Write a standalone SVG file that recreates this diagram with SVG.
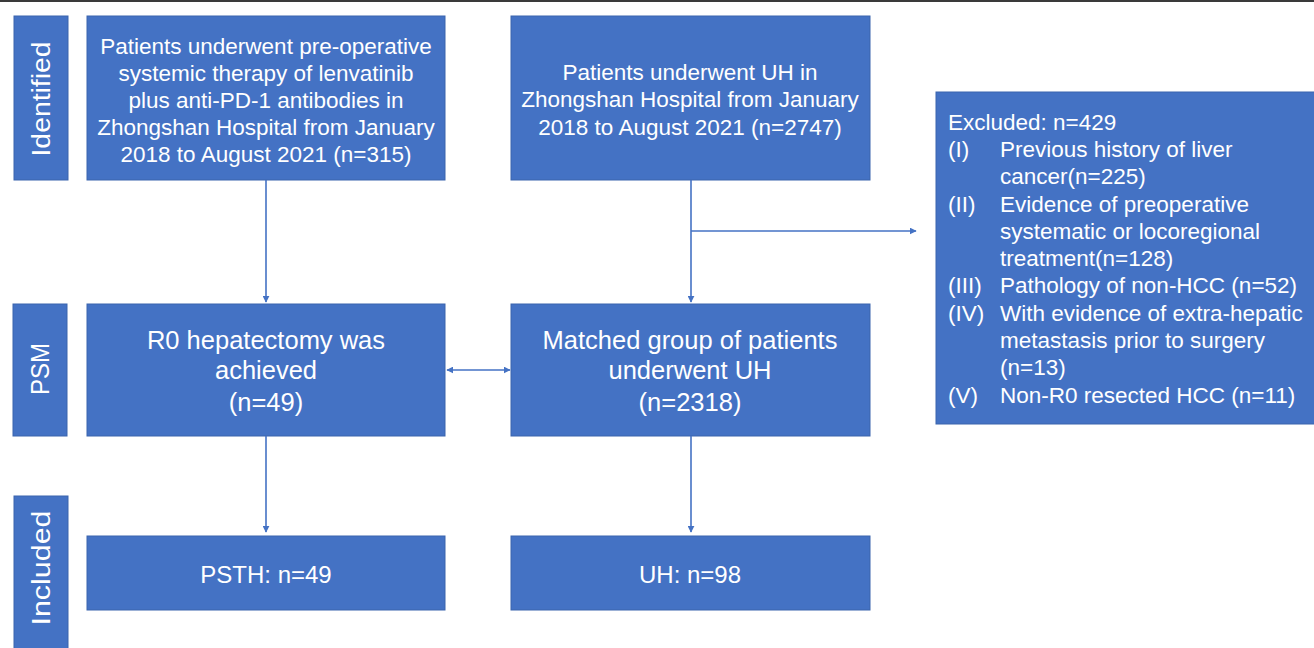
<svg xmlns="http://www.w3.org/2000/svg" width="1314" height="648" viewBox="0 0 1314 648">
<defs>
<style>
.box{fill:#4472C4;stroke:#3b64ad;stroke-width:1}
.t{font-family:"Liberation Sans","Noto Sans",sans-serif;fill:#ffffff;font-size:22.5px}
.c{text-anchor:middle}
.big{font-size:25.5px}
.sm{font-size:24px}
.side{font-size:25px;text-anchor:middle}
.ln{stroke:#4472C4;stroke-width:1.6;fill:none}
</style>
<marker id="ah" viewBox="0 0 10 10" refX="9" refY="5" markerWidth="7" markerHeight="7" orient="auto-start-reverse" markerUnits="userSpaceOnUse">
<path d="M0,0 L10,5 L0,10 z" fill="#4472C4"/>
</marker>
</defs>
<rect x="0" y="0" width="1314" height="648" fill="#ffffff"/>
<rect x="0" y="0" width="1314" height="2" fill="#3a3a3a"/>

<g id="label-identified">
<rect class="box" x="14" y="16" width="54" height="164"/>
<text class="t side" transform="translate(50,99) rotate(-90)" textLength="115" lengthAdjust="spacingAndGlyphs">Identified</text>
</g>
<g id="label-psm">
<rect class="box" x="13" y="304" width="54" height="132"/>
<text class="t side" transform="translate(49,369) rotate(-90)" textLength="52" lengthAdjust="spacingAndGlyphs">PSM</text>
</g>
<g id="label-included">
<rect class="box" x="14" y="496" width="54" height="160"/>
<text class="t side" transform="translate(50,568) rotate(-90)" textLength="115" lengthAdjust="spacingAndGlyphs">Included</text>
</g>

<g id="node-pst">
<rect class="box" x="87" y="16" width="358" height="164"/>
<text class="t c" x="266" y="54">Patients underwent pre-operative</text>
<text class="t c" x="266" y="81">systemic therapy of lenvatinib</text>
<text class="t c" x="266" y="108">plus anti-PD-1 antibodies in</text>
<text class="t c" x="266" y="135">Zhongshan Hospital from January</text>
<text class="t c" x="266" y="162">2018 to August 2021 (n=315)</text>
</g>
<g id="node-uh-all">
<rect class="box" x="511" y="16" width="359" height="164"/>
<text class="t c" x="690" y="80">Patients underwent UH in</text>
<text class="t c" x="690" y="107">Zhongshan Hospital from January</text>
<text class="t c" x="690" y="135">2018 to August 2021 (n=2747)</text>
</g>
<g id="node-excluded">
<rect class="box" x="936" y="92" width="390" height="332"/>
<text class="t" x="948" y="130">Excluded: n=429</text>
<text class="t" x="948" y="157">(I)</text>
<text class="t" x="1000" y="157">Previous history of liver</text>
<text class="t" x="1000" y="184">cancer(n=225)</text>
<text class="t" x="948" y="212">(II)</text>
<text class="t" x="1000" y="212">Evidence of preoperative</text>
<text class="t" x="1000" y="239">systematic or locoregional</text>
<text class="t" x="1000" y="266">treatment(n=128)</text>
<text class="t" x="948" y="293">(III)</text>
<text class="t" x="1000" y="293">Pathology of non-HCC (n=52)</text>
<text class="t" x="948" y="321">(IV)</text>
<text class="t" x="1000" y="321">With evidence of extra-hepatic</text>
<text class="t" x="1000" y="348">metastasis prior to surgery</text>
<text class="t" x="1000" y="375">(n=13)</text>
<text class="t" x="948" y="403">(V)</text>
<text class="t" x="1000" y="403">Non-R0 resected HCC (n=11)</text>
</g>
<g id="node-r0">
<rect class="box" x="87" y="304" width="358" height="132"/>
<text class="t c big" x="266" y="349">R0 hepatectomy was</text>
<text class="t c big" x="266" y="379">achieved</text>
<text class="t c big" x="266" y="411">(n=49)</text>
</g>
<g id="node-matched">
<rect class="box" x="511" y="304" width="359" height="132"/>
<text class="t c big" x="690" y="349">Matched group of patients</text>
<text class="t c big" x="690" y="379">underwent UH</text>
<text class="t c big" x="690" y="411">(n=2318)</text>
</g>
<g id="node-psth">
<rect class="box" x="87" y="536" width="358" height="74"/>
<text class="t c sm" x="266" y="583">PSTH: n=49</text>
</g>
<g id="node-uh">
<rect class="box" x="511" y="536" width="359" height="74"/>
<text class="t c sm" x="690" y="583">UH: n=98</text>
</g>

<g id="connectors">
<line class="ln" x1="266" y1="180" x2="266" y2="302" marker-end="url(#ah)"/>
<line class="ln" x1="691" y1="180" x2="691" y2="302" marker-end="url(#ah)"/>
<line class="ln" x1="691" y1="231" x2="916" y2="231" marker-end="url(#ah)"/>
<line class="ln" x1="447" y1="370" x2="510" y2="370" marker-start="url(#ah)" marker-end="url(#ah)"/>
<line class="ln" x1="266" y1="436" x2="266" y2="532" marker-end="url(#ah)"/>
<line class="ln" x1="691" y1="436" x2="691" y2="532" marker-end="url(#ah)"/>
</g>
</svg>
